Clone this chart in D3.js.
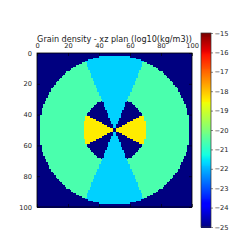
<!DOCTYPE html>
<html><head><meta charset="utf-8">
<script src="https://cdn.jsdelivr.net/npm/d3@7"></script>
<style>html,body{margin:0;padding:0;background:#fff;}svg{display:block;}</style>
</head><body>
<script>
// ---- data ----
const title = "Grain density - xz plan (log10(kg/m3))";
const gridSize = 100;                       // cells per side
const xTicks = [0, 20, 40, 60, 80, 100];
const yTicks = [0, 20, 40, 60, 80, 100];
const cbTicks = [-15, -16, -17, -18, -19, -20, -21, -22, -23, -24, -25];
const cbDomain = [-25, -15];
// zones of the model and their log10 density
const zoneNames  = ["outside", "envelope", "outflow cone", "inner disk", "inner gap"];
const zoneValues = [-25, -20.6, -21.7, -18.4, -25];
// zone geometry (grid units / degrees from the z axis)
const zoneCenter = [50, 50];
const zoneRadii  = [48.5, 20.5];          // outer edge, inner region edge
const zoneAngles = [23, 62];              // cone half-opening, start of inner disk

// ---- layout ----
const W = 249, H = 249;
const plot = {x0: 37, x1: 192, y0: 53, y1: 207};
const cb = {x0: 201, x1: 211, y0: 33, y1: 227};

const svg = d3.select("body").append("svg").attr("width", W).attr("height", H)
  .style("font-family", "DejaVu Sans, sans-serif");

// jet colormap (matplotlib segment data) via d3 scales
const jr = d3.scaleLinear().domain([0, 0.35, 0.66, 0.89, 1]).range([0, 0, 1, 1, 0.5]).clamp(true);
const jg = d3.scaleLinear().domain([0, 0.125, 0.375, 0.64, 0.91, 1]).range([0, 0, 1, 1, 0, 0]).clamp(true);
const jb = d3.scaleLinear().domain([0, 0.11, 0.34, 0.65, 1]).range([0.5, 1, 1, 0, 0]).clamp(true);
const norm = d3.scaleLinear().domain(cbDomain).range([0, 1]).clamp(true);
const jet = v => { const t = norm(v); return d3.rgb(jr(t) * 255, jg(t) * 255, jb(t) * 255).formatHex(); };

const x = d3.scaleLinear().domain([0, gridSize]).range([plot.x0, plot.x1]);
const y = d3.scaleLinear().domain([0, gridSize]).range([plot.y0, plot.y1]);

// background of the image = lowest zone value
svg.append("rect").attr("x", plot.x0).attr("y", plot.y0)
  .attr("width", plot.x1 - plot.x0).attr("height", plot.y1 - plot.y0)
  .attr("fill", jet(zoneValues[0]));

// cells
function zoneOf(i, j) {
  const dx = i + 0.5 - zoneCenter[0], dy = j + 0.5 - zoneCenter[1];
  const r = Math.hypot(dx, dy);
  if (r > zoneRadii[0]) return 0;
  const th = Math.atan2(Math.abs(dx), Math.abs(dy)) * 180 / Math.PI;
  if (th < zoneAngles[0]) return 2;
  if (r < zoneRadii[1]) return th > zoneAngles[1] ? 3 : 4;
  return 1;
}
const cells = [];
for (let j = 0; j < gridSize; j++) {
  let start = 0, cur = zoneOf(0, j);
  for (let i = 1; i <= gridSize; i++) {
    const z = i < gridSize ? zoneOf(i, j) : -1;
    if (z !== cur) { cells.push({i0: start, i1: i, j, v: zoneValues[cur]}); start = i; cur = z; }
  }
}
svg.append("g").attr("shape-rendering", "crispEdges").selectAll("rect").data(cells).join("rect")
  .attr("x", d => x(d.i0)).attr("y", d => y(d.j))
  .attr("width", d => x(d.i1) - x(d.i0)).attr("height", d => y(d.j + 1) - y(d.j) + 0.5)
  .attr("fill", d => jet(d.v));

// frame
svg.append("rect").attr("x", plot.x0).attr("y", plot.y0)
  .attr("width", plot.x1 - plot.x0).attr("height", plot.y1 - plot.y0)
  .attr("fill", "none").attr("stroke", "#000").attr("stroke-width", 0.8);

// axes (ticks inside, labels top/left)
const fs = 6.7;
const gx = svg.append("g").attr("transform", `translate(0,${plot.y0})`)
  .call(d3.axisTop(x).tickValues(xTicks).tickSize(-3).tickPadding(5));
const gxb = svg.append("g").attr("transform", `translate(0,${plot.y1})`)
  .call(d3.axisBottom(x).tickValues(xTicks).tickSize(-3).tickFormat(""));
const gy = svg.append("g").attr("transform", `translate(${plot.x0},0)`)
  .call(d3.axisLeft(y).tickValues(yTicks).tickSize(-3).tickPadding(5));
const gyr = svg.append("g").attr("transform", `translate(${plot.x1},0)`)
  .call(d3.axisRight(y).tickValues(yTicks).tickSize(-3).tickFormat(""));
[gx, gxb, gy, gyr].forEach(g => {
  g.select(".domain").remove();
  g.selectAll("line").attr("stroke", "#000").attr("stroke-width", 0.6);
  g.selectAll("text").attr("font-size", fs).attr("fill", "#222").attr("font-family", "DejaVu Sans, sans-serif");
});

// title
svg.append("text").attr("x", (plot.x0 + plot.x1) / 2).attr("y", 41.5)
  .attr("text-anchor", "middle").attr("font-size", 8.1).attr("fill", "#222")
  .text(title);

// colorbar
const cy = d3.scaleLinear().domain(cbDomain).range([cb.y1, cb.y0]);
const nSteps = 200;
const dv = (cbDomain[1] - cbDomain[0]) / nSteps;
const steps = d3.range(0, nSteps).map(k => cbDomain[0] + dv * k);
svg.append("g").attr("shape-rendering", "crispEdges").selectAll("rect").data(steps).join("rect")
  .attr("x", cb.x0).attr("width", cb.x1 - cb.x0)
  .attr("y", d => cy(d + dv)).attr("height", d => cy(d) - cy(d + dv) + 0.6)
  .attr("fill", d => jet(d + dv / 2));
svg.append("rect").attr("x", cb.x0).attr("y", cb.y0).attr("width", cb.x1 - cb.x0).attr("height", cb.y1 - cb.y0)
  .attr("fill", "none").attr("stroke", "#333").attr("stroke-width", 0.7);
const gc = svg.append("g").attr("transform", `translate(${cb.x1},0)`)
  .call(d3.axisRight(cy).tickValues(cbTicks).tickSize(2).tickPadding(1.5)
    .tickFormat(d => (d < 0 ? "\u2212" : "") + Math.abs(d)));
gc.select(".domain").remove();
gc.selectAll("line").attr("stroke", "#333").attr("stroke-width", 0.6);
gc.selectAll("text").attr("font-size", fs).attr("fill", "#222").attr("font-family", "DejaVu Sans, sans-serif");
</script>
</body></html>
